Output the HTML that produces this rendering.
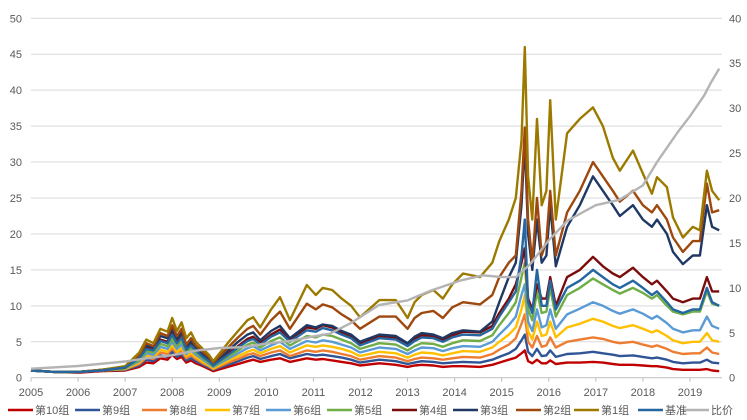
<!DOCTYPE html>
<html><head><meta charset="utf-8"><style>
body{margin:0;background:#fff;}
svg{display:block;font-family:"Liberation Sans","Noto Sans CJK SC",sans-serif;}
</style></head><body>
<svg id="chart" width="747" height="420" xmlns="http://www.w3.org/2000/svg">
<g id="grid"></g>
<g id="axes"></g>
<g id="series"></g>
<g id="legend"></g>
</svg>
<script>
const dates = [2005.0,2005.5,2006.0,2006.5,2007.0,2007.3,2007.45,2007.6,2007.75,2007.9,
2008.0,2008.1,2008.2,2008.3,2008.4,2008.5,2008.65,2008.78,2008.87,2009.23,
2009.4,2009.6,2009.72,2009.87,2010.1,2010.29,2010.5,2010.86,2011.05,2011.2,
2011.4,2011.6,2011.8,2011.99,2012.4,2012.75,2013.0,2013.15,2013.3,2013.55,
2013.75,2013.95,2014.18,2014.54,2014.8,2014.95,2015.15,
2015.3,2015.42,2015.49,2015.56,2015.65,2015.75,2015.85,2015.95,2016.03,2016.15,
2016.39,2016.66,2016.94,2017.15,2017.36,2017.51,2017.79,2018.0,2018.19,2018.3,
2018.51,2018.64,2018.85,2019.06,2019.21,2019.36,2019.47,2019.62];
const g10 = [1.0,0.8,0.7,0.9,1.0,1.5,2.1,2.0,2.7,2.5,3.2,2.6,2.9,2.1,2.4,2.0,1.6,1.2,0.9,1.6,1.9,2.3,2.5,2.2,2.5,2.7,2.2,2.7,2.5,2.6,2.4,2.2,2.0,1.7,2.0,1.8,1.5,1.7,1.8,1.7,1.5,1.6,1.6,1.5,1.8,2.1,2.5,
2.8,3.4,3.8,2.3,2,2.5,2,2,2.4,1.9,2.1,2.1,2.2,2.1,1.9,1.8,1.8,1.7,1.6,1.6,1.4,1.2,1.1,1.1,1.1,1.2,1.0,0.9];
const g9 = [1.0,0.8,0.8,1.0,1.1,1.7,2.5,2.3,3.1,2.9,3.6,2.9,3.3,2.4,2.7,2.3,1.8,1.4,1.1,1.9,2.3,2.8,3.0,2.6,3.0,3.3,2.7,3.3,3.1,3.2,3.0,2.8,2.5,2.1,2.5,2.3,1.9,2.1,2.3,2.2,2.0,2.1,2.2,2.1,2.5,2.9,3.4,
4,5.2,6,3.6,3,4,3,3.1,3.8,2.9,3.3,3.4,3.6,3.4,3.2,3,3.1,2.9,2.7,2.8,2.5,2.2,2,2.1,2.1,2.5,2.1,2];
const g8 = [1.0,0.8,0.8,1.0,1.2,1.9,2.8,2.6,3.5,3.3,4.1,3.3,3.7,2.7,3.1,2.6,2.0,1.6,1.2,2.2,2.6,3.2,3.4,3.0,3.5,3.8,3.0,3.8,3.6,3.8,3.6,3.3,3.0,2.5,3.0,2.8,2.3,2.6,2.8,2.7,2.5,2.7,2.9,2.8,3.3,3.9,4.6,
5.5,7.5,8.8,5,4.2,5.8,4.3,4.5,5.6,4.2,5,5.3,5.6,5.4,5,4.8,5,4.6,4.3,4.5,4,3.6,3.3,3.4,3.4,4.2,3.5,3.3];
const g7 = [1.0,0.8,0.8,1.0,1.2,2.1,3.1,2.9,3.9,3.6,4.5,3.6,4.1,3.0,3.4,2.9,2.2,1.7,1.3,2.5,3.0,3.6,3.9,3.4,4.0,4.4,3.5,4.5,4.3,4.5,4.3,4.0,3.6,3.0,3.6,3.4,2.8,3.2,3.5,3.4,3.1,3.4,3.7,3.6,4.2,5.0,6.0,
7,9.5,11.5,6.5,5.3,7.8,5.8,6,7.8,5.6,7,7.5,8.2,7.8,7.2,6.9,7.3,6.8,6.3,6.6,5.8,5.2,4.8,5,5,6.2,5.2,5];
const g6 = [1.0,0.8,0.8,1.0,1.3,2.3,3.4,3.2,4.3,4.0,5.0,4.0,4.6,3.3,3.8,3.2,2.5,1.9,1.5,2.8,3.4,4.1,4.4,3.8,4.5,5.0,4.0,5.1,4.9,5.2,5.0,4.6,4.2,3.5,4.2,4.0,3.3,3.8,4.2,4.1,3.7,4.1,4.4,4.3,5.0,6.0,7.3,
8.5,11.5,13,7.8,6.5,9.5,7,7.3,9.5,6.8,8.8,9.6,10.5,10,9.3,8.9,9.5,8.9,8.2,8.6,7.6,6.8,6.3,6.6,6.6,8.5,7.2,6.8];
const g5 = [1.0,0.8,0.8,1.0,1.3,2.5,3.7,3.5,4.7,4.4,5.5,4.4,5.1,3.6,4.1,3.5,2.7,2.1,1.6,3.1,3.8,4.6,4.9,4.2,5.1,5.6,4.5,5.8,5.6,6.0,5.8,5.3,4.8,4.0,4.8,4.6,3.8,4.4,4.8,4.7,4.3,4.8,5.2,5.1,5.9,7.3,9.0,
10.5,14,16,9.5,8,12,9,9.2,12.5,8.5,11.5,12.5,13.8,13,12.2,11.7,12.5,11.8,11,11.5,10,9.2,8.8,9.2,9.2,12,10.3,10];
const g4 = [1.0,0.8,0.8,1.0,1.4,2.8,4.2,3.9,5.3,5.0,6.3,5.0,5.8,4.0,4.7,3.9,3.0,2.4,1.8,3.6,4.4,5.4,5.7,4.8,6.0,6.7,5.3,7.0,6.8,7.3,7.0,6.3,5.8,4.8,5.8,5.6,4.6,5.4,5.9,5.8,5.3,5.9,6.4,6.3,7.2,9.0,11.0,
13,16,18,11,9.5,13,11,11,14,10,14,15,16.8,15.5,14.5,14,15.3,14,13,13.5,12,11,10.5,11,11,14,12,12];
const g3 = [1.0,0.8,0.8,1.1,1.5,3.0,4.5,4.2,5.8,5.5,6.8,5.5,6.3,4.3,5.1,4.2,3.3,2.6,1.9,4.0,5.0,6.0,6.3,5.2,6.5,7.2,5.5,7.3,7.0,7.4,7.2,6.5,6.0,5.0,6.0,5.8,4.8,5.7,6.2,6.0,5.5,6.2,6.6,6.4,7.8,10.5,14.0,
16,24,33,20,15,22,16,17,24,15.5,21,24,28,26,24,22.5,24,22,21,22,20,17.5,15.8,17,17,24,21,20.5];
const g2 = [1.0,0.8,0.8,1.1,1.5,3.2,4.8,4.4,6.2,5.8,7.3,5.8,6.8,4.6,5.5,4.5,3.6,2.9,2.1,4.5,5.6,6.8,7.2,6.0,8.0,9.2,6.8,10.3,9.5,10.2,9.8,8.8,8.0,6.8,8.5,8.5,6.8,8.3,9.0,9.3,8.3,9.8,10.5,10.2,11.5,14.0,16.0,
17,26,34.8,22,16,25,17,19,26,17,23,26,30,28,26,24.5,26,24,23,24,22,19.5,17.5,19,19,27,23,23.3];
const g1 = [1.0,0.8,0.8,1.1,1.6,3.5,5.3,4.8,6.8,6.4,8.3,6.5,7.7,5.5,6.3,5.0,4.0,3.2,2.3,5.2,6.5,8.0,8.4,7.0,9.5,11.2,8.0,12.9,11.5,12.5,12.2,11.0,10.0,8.4,10.8,10.8,8.3,10.5,11.5,12.2,11.0,13.0,14.5,14.0,16.0,19.0,22.0,
25,33,46,28,22,36,24,26,38.6,22,34,36,37.6,35,30.6,28.8,31.6,28.4,25.6,27.9,26.5,22.3,19.5,21,20.5,28.8,26,24.7];
const bench = [1.0,0.8,0.8,1.0,1.4,2.7,4.0,3.8,5.1,4.8,6.0,4.8,5.6,3.9,4.5,3.8,2.9,2.3,1.7,3.4,4.2,5.1,5.4,4.6,5.7,6.3,5.0,6.6,6.4,6.9,6.6,6.0,5.5,4.5,5.5,5.3,4.4,5.1,5.6,5.5,5.0,5.6,6.0,5.9,6.8,8.5,10.5,
12,17,22,10.5,9,15,10,10,13.5,9.5,12.5,13.5,15,14,13,12.5,13.5,12.5,11.5,12,10.5,9.5,9,9.5,9.5,12.5,10.5,10];
const ratioDates = [2005,2006,2007,2007.5,2008,2008.5,2009,2009.5,2010,2010.5,2011,2011.35,2011.8,2012.4,2013,2013.5,2014.11,2014.6,2015,2015.3,2015.6,2016,2016.4,2017,2017.5,2018,2018.3,2018.75,2019,2019.3,2019.45,2019.62];
const ratio = [1.0,1.3,1.8,2.2,2.5,3.0,3.3,3.4,3.8,4.1,4.6,4.9,6.1,8.1,8.6,9.7,10.8,11.4,11.2,11.2,12.6,15.3,17.5,19.2,19.8,21.4,24.0,27.4,29.1,31.4,32.9,34.4];
const leftTicks = [0,5,10,15,20,25,30,35,40,45,50];
const rightTicks = [0,5,10,15,20,25,30,35,40];
const yearTicks = [2005,2006,2007,2008,2009,2010,2011,2012,2013,2014,2015,2016,2017,2018,2019];

const NS="http://www.w3.org/2000/svg";
const X0=31, PX=47.07, Y0=377.7;
function xS(t){return X0+(t-2005)*PX;}
function yL(v){return Y0-v*7.188;}
function yR(v){return Y0-v*8.985;}
function mk(tag,attrs,parent){const e=document.createElementNS(NS,tag);for(const k in attrs)e.setAttribute(k,attrs[k]);parent.appendChild(e);return e;}
const grid=document.getElementById('grid'),axes=document.getElementById('axes'),ser=document.getElementById('series'),leg=document.getElementById('legend');
leftTicks.forEach(v=>{
  const l=mk('line',{x1:X0,x2:722,y1:yL(v),y2:yL(v),stroke:v===0?'#bfbfbf':'#d9d9d9','stroke-width':1},grid);
  
  
  const t=mk('text',{x:22,y:yL(v)+4,'text-anchor':'end','font-size':11,fill:'#595959'},axes);
  t.textContent=v;
  
  
});
rightTicks.forEach(v=>{
  const t=mk('text',{x:729,y:yR(v)+4,'font-size':11,fill:'#595959'},axes);
  t.textContent=v;
  
  
});
yearTicks.forEach(y=>{
  const tk=mk('line',{x1:xS(y),x2:xS(y),y1:Y0,y2:Y0+4,stroke:'#bfbfbf'},axes);
  
  
  const t=mk('text',{x:xS(y),y:396,'text-anchor':'middle','font-size':11,fill:'#595959'},axes);
  t.textContent=y;
  
  
});
const seriesList=[
 ['第10组',g10,'#c00000','series-group-10'],['第9组',g9,'#2f5597','series-group-9'],['第8组',g8,'#ed7d31','series-group-8'],
 ['第7组',g7,'#ffc000','series-group-7'],['第6组',g6,'#5b9bd5','series-group-6'],['第5组',g5,'#70ad47','series-group-5'],
 ['第4组',g4,'#7b0c0c','series-group-4'],['第3组',g3,'#1f3864','series-group-3'],['第2组',g2,'#9e480e','series-group-2'],
 ['第1组',g1,'#9c7a00','series-group-1'],['基准',bench,'#2566a0','series-benchmark']];
seriesList.forEach(s=>{
  const d=s[1].map((v,i)=>(i?'L':'M')+xS(dates[i]).toFixed(1)+','+yL(v).toFixed(1)).join('');
  const p=mk('path',{d:d,fill:'none',stroke:s[2],'stroke-width':2.4,'stroke-linejoin':'round'},ser);
  
  
});
{
  const d=ratio.map((v,i)=>(i?'L':'M')+xS(ratioDates[i]).toFixed(1)+','+yR(v).toFixed(1)).join('');
  const p=mk('path',{d:d,fill:'none',stroke:'#b4b4b4','stroke-width':2.4,'stroke-linejoin':'round'},ser);
  
  
}
const legX=[8,75,142,205,266,327,392,453,516,574,638,684];
const legItems=[['第10组','#c00000'],['第9组','#2f5597'],['第8组','#ed7d31'],['第7组','#ffc000'],['第6组','#5b9bd5'],['第5组','#70ad47'],['第4组','#7b0c0c'],['第3组','#1f3864'],['第2组','#9e480e'],['第1组','#9c7a00'],['基准','#2566a0'],['比价','#b4b4b4']];
legItems.forEach((it,i)=>{
  const g=mk('g',{},leg);
  
  
  mk('line',{x1:legX[i],x2:legX[i]+25,y1:410,y2:410,stroke:it[1],'stroke-width':2.6},g);
  const t=mk('text',{x:legX[i]+27,y:414,'font-size':11,fill:'#595959'},g);
  t.textContent=it[0];
});
</script>
</body></html>
